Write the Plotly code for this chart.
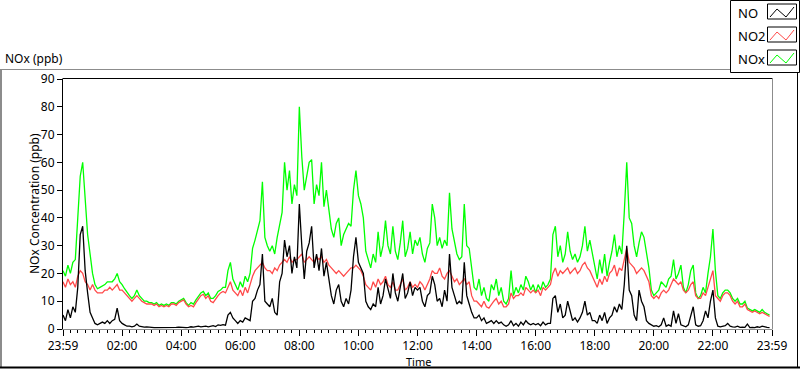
import plotly.graph_objects as go

# ---- data (5-minute samples, ppb) ----
NO = [
    5, 3, 7, 4, 8, 6, 15, 34, 37, 21, 13, 6,
    4, 2, 1.5, 2, 2.5, 2, 3, 2, 3, 3.5, 7.5, 3,
    2, 1.5, 1, 1, 0.8, 1, 1.8, 1, 0.8, 0.7, 0.8, 0.6,
    0.6, 0.5, 0.5, 0.6, 0.5, 0.4, 0.5, 0.6, 0.5, 0.5, 0.6, 0.7,
    0.6, 0.7, 0.5, 0.6, 0.8, 0.7, 0.9, 1, 0.8, 0.9, 1, 0.8,
    1, 1.2, 0.9, 1.5, 1.3, 1.6, 1.4, 5, 6, 4, 3, 2,
    3, 2.5, 4, 3.5, 3, 10, 11, 14, 16, 27, 10, 9,
    8, 11, 6, 5, 17, 20, 32, 26, 30, 20, 26, 22,
    45, 30, 18, 28, 31, 37, 22, 27, 21, 29, 19, 24,
    18, 12, 9, 14, 16, 10, 8, 11, 9, 14, 26, 33,
    24, 22, 20, 10, 8, 7, 9, 8, 15, 9, 12, 18,
    14, 11, 20, 13, 10, 15, 20, 11, 13, 17, 12, 15,
    14, 15, 10, 8, 12, 13, 19, 16, 10, 11, 8, 14,
    10, 27, 15, 12, 9, 10, 9, 24, 12, 9, 6, 4,
    4, 5, 3, 4, 2, 2.5, 3, 2, 3, 2, 2.5, 1.5,
    1, 1.5, 3, 1.2, 2, 1, 2.5, 1.5, 3, 2, 1.5, 2,
    1.5, 2, 1.2, 2.5, 1.5, 2, 2, 11, 12, 6, 9, 4,
    5, 10, 6, 3, 4, 2.5, 4, 6, 10, 5, 6, 3,
    3, 2, 5, 3, 6, 2, 4, 5, 8, 6, 9, 7,
    16, 30, 14, 12, 5, 3, 14, 10, 8, 3, 2, 1.5,
    1, 1.2, 0.8, 1.5, 4, 1, 1.5, 1, 6.5, 2, 5.5, 1.5,
    1, 0.8, 1.5, 5, 8, 1.5, 1, 1.2, 3, 6.5, 4, 10,
    14, 4, 1, 0.8, 1, 1.2, 2, 1, 0.8, 0.7, 1, 0.6,
    0.7, 0.6, 1.8, 0.5, 0.6, 0.5, 0.8, 0.6, 1, 0.7, 0.6, 0.5,
]
NO2 = [
    17, 15, 18, 16, 17, 15, 19, 21, 20, 17, 16, 14,
    16, 14, 13, 13, 13, 14, 14, 15, 14, 15, 16, 14,
    14, 13, 12, 11, 10, 11, 12, 11, 10, 9.5, 9, 9,
    9, 8.5, 9, 8, 8.5, 8, 8.5, 8, 9, 9, 8.5, 9.5,
    10, 10.5, 9, 8, 8.5, 8, 9.5, 11, 12, 12.5, 11, 12,
    10, 9.5, 11, 12, 13, 13.5, 13, 15, 17, 14, 13, 12,
    14, 12, 15, 13, 16, 19, 21, 22, 23, 24, 22, 21,
    21, 20, 22, 21, 23, 24, 25, 24, 26, 24, 25, 25,
    26, 27, 24, 25, 26, 25, 24, 26, 25, 26, 24, 25,
    23, 22, 21, 20, 21, 20, 19, 20, 21, 22, 22, 23,
    22, 21, 19, 16, 15, 14, 17, 15, 18, 16, 17, 19,
    16, 15, 17, 14, 14, 16, 18, 14, 15, 17, 15, 16,
    15, 17, 16, 14, 16, 18, 21, 20, 20, 22, 19, 18,
    20, 21, 19, 17, 18, 16, 17, 18, 16, 17, 12, 10,
    10, 9, 8, 10, 8, 7.5, 9, 10, 11, 9, 10, 8,
    8, 9, 13, 11, 12, 12, 13, 12, 15, 14, 13, 14,
    13, 14, 12, 15, 14, 15, 16, 20, 22, 19, 21, 20,
    21, 22, 20, 21, 22, 20, 21, 23, 24, 22, 21, 19,
    17, 15, 18, 16, 19, 17, 20, 21, 23, 19, 22, 21,
    25, 29, 24, 23, 22, 20, 21, 22, 21, 19, 17, 12,
    11, 12, 11, 13, 14, 13, 14, 16, 18, 17, 16, 17,
    14, 13, 14, 16, 17, 12, 11, 11, 13, 12, 15, 18,
    21, 12, 11, 10, 12, 13, 13, 12, 10, 9, 10, 8,
    8, 9, 7, 6.5, 6, 6.5, 6, 5.5, 6, 5.5, 5, 4.5,
]
NOx = [
    21, 19, 23, 20, 24, 25, 40, 55, 60, 45, 34, 27,
    20, 16, 14.5, 15, 15.5, 16, 17, 17, 17, 18, 20, 17,
    16, 14.5, 13, 12, 11, 12, 14, 12, 11, 10, 10, 9.5,
    9.5, 9, 9.5, 8.5, 9, 8.5, 9, 8.5, 9.5, 9.5, 9, 10,
    10.5, 11, 9.5, 8.5, 9.5, 9, 10.5, 12, 13, 13.5, 12, 13,
    11, 11, 12, 13.5, 14, 15, 15, 21, 24, 18, 16, 14,
    17, 15, 19, 17, 20, 29, 32, 36, 39, 53, 33, 30,
    28, 30, 27, 33, 38, 42, 60, 50, 57, 45, 52, 48,
    80, 62, 50, 55, 60, 61, 45, 52, 48, 60, 44, 50,
    42, 36, 33, 38, 40, 30, 34, 36, 38, 37, 50, 57,
    48, 45, 40, 28, 25, 22, 27, 24, 35, 26, 30, 39,
    30, 27, 37, 28, 25, 31, 39, 26, 29, 35, 27, 32,
    30, 33, 27, 24, 29, 31, 45, 40, 30, 33, 29, 32,
    30, 49, 36, 32, 27, 25, 26, 45, 30, 29, 22, 15,
    14, 18, 12, 15, 11, 10, 16, 14, 18, 12, 15, 10,
    9, 11, 21, 12, 15, 13, 16, 14, 19, 17, 14, 16,
    13, 16, 14, 17, 15, 16, 18, 34, 37, 26, 30, 24,
    27, 35, 28, 25, 27, 24, 26, 30, 37, 28, 32, 27,
    22, 18, 25, 20, 27, 19, 24, 28, 34, 26, 30, 27,
    42, 60, 40, 38, 30, 26, 31, 35, 33, 27, 22, 14,
    12, 13, 14, 17, 16, 15, 18, 19, 25, 18, 20, 23,
    15, 13, 16, 21, 23, 13, 11, 12, 15, 13, 20, 26,
    36, 21, 12, 11, 13, 14, 14, 13, 11, 10, 11, 9,
    9, 10, 7.5, 7, 6.5, 7, 6.5, 6, 7, 6, 5.5, 5,
]
SAMPLE_MINUTES = 5
hours = [i * SAMPLE_MINUTES / 60 for i in range(len(NO))]

tick_hours = [0, 2, 4, 6, 8, 10, 12, 14, 16, 18, 20, 22, 24]
tick_labels = ["23:59", "02:00", "04:00", "06:00", "08:00", "10:00", "12:00",
               "14:00", "16:00", "18:00", "20:00", "22:00", "23:59"]
series_names = ["NO", "NO2", "NOx"]
series_colors = ["#000000", "#ff4a4a", "#00ff00"]

FONT = "Noto Sans"
W, H = 800, 369
L, R, T, B = 63, 28, 79, 40
PW, PH = W - L - R, H - T - B


def px(x):
    return (x - L) / PW


def py(y):
    return (H - B - y) / PH


fig = go.Figure()
for name, vals, col in [("NOx", NOx, series_colors[2]),
                        ("NO2", NO2, series_colors[1]),
                        ("NO", NO, series_colors[0])]:
    fig.add_trace(go.Scatter(x=hours, y=vals, mode="lines", name=name,
                             line=dict(color=col, width=1.3), showlegend=False,
                             hoverinfo="skip"))

shapes = []


def line(x0, y0, x1, y1, color, width=1):
    shapes.append(dict(type="line", xref="paper", yref="paper",
                       x0=px(x0), y0=py(y0), x1=px(x1), y1=py(y1),
                       line=dict(color=color, width=width), layer="above"))


# outer frame
line(0, 69.5, 730, 69.5, "#8c8c8c")
line(1, 69.5, 1, 367, "#8c8c8c", 2)
line(0, 367.5, 800, 367.5, "#000000", 2)
line(797.5, 72, 797.5, 368, "#000000")
# plot area frame
line(62.5, 78.5, 772.5, 78.5, "#000000")
line(772.5, 78.5, 772.5, 329.5, "#8c8c8c")
# legend box
shapes.append(dict(type="rect", xref="paper", yref="paper",
                   x0=px(730.5), y0=py(0.5), x1=px(799.5), y1=py(72.5),
                   line=dict(color="#000000", width=1), fillcolor="white", layer="above"))

annotations = []
for k, (name, col) in enumerate(zip(series_names, series_colors)):
    yc = 12 + 23 * k
    shapes.append(dict(type="rect", xref="paper", yref="paper",
                       x0=px(767.5), y0=py(yc - 8), x1=px(796.5), y1=py(yc + 7),
                       line=dict(color="#000000", width=1), fillcolor="white", layer="above"))
    pts = [(770, yc + 5), (777, yc - 3), (786, yc + 5), (794, yc - 5)]
    path = "M " + " L ".join(f"{px(a)},{py(b)}" for a, b in pts)
    shapes.append(dict(type="path", xref="paper", yref="paper", path=path,
                       line=dict(color=col, width=1), layer="above"))
    annotations.append(dict(text=name, xref="paper", yref="paper", x=px(736), y=py(yc + 1),
                            xanchor="left", yanchor="middle", showarrow=False,
                            font=dict(family=FONT, size=13, color="#000000")))

annotations.append(dict(text="NOx (ppb)", xref="paper", yref="paper", x=px(3), y=py(59),
                        xanchor="left", yanchor="middle", showarrow=False,
                        font=dict(family=FONT, size=12, color="#000000")))
annotations.append(dict(text="NOx Concentration (ppb)", xref="paper", yref="paper",
                        x=px(34), y=py(204), textangle=-90, xanchor="center", yanchor="middle",
                        showarrow=False, font=dict(family=FONT, size=12, color="#000000")))
annotations.append(dict(text="Time", xref="paper", yref="paper", x=px(418), y=py(361.5),
                        xanchor="center", yanchor="middle", showarrow=False, borderpad=0,
                        font=dict(family=FONT, size=11, color="#000000")))

fig.update_layout(
    width=W, height=H,
    margin=dict(l=L, r=R, t=T, b=B),
    paper_bgcolor="white", plot_bgcolor="white",
    font=dict(family=FONT, size=12, color="#000000"),
    shapes=shapes, annotations=annotations,
    hovermode=False,
    xaxis=dict(range=[0, 24], tickmode="array", tickvals=tick_hours, ticktext=tick_labels,
               showgrid=False, zeroline=False, showline=True, linecolor="#8c8c8c", linewidth=1,
               ticks="outside", ticklen=6, tickcolor="#000000", tickwidth=1,
               tickfont=dict(family=FONT, size=12, color="#000000"),
               minor=dict(tickmode="linear", tick0=0, dtick=0.25, ticks="outside",
                          ticklen=3, tickcolor="#000000", showgrid=False)),
    yaxis=dict(range=[0, 90], tickmode="linear", tick0=0, dtick=10,
               showgrid=False, zeroline=False, showline=True, linecolor="#000000", linewidth=1,
               ticks="outside", ticklen=5, tickcolor="#000000", tickwidth=1,
               tickfont=dict(family=FONT, size=12, color="#000000")),
)

fig.write_html("out.html", config={"displayModeBar": False, "staticPlot": True},
               post_script="document.body.style.margin='0';document.body.style.overflow='hidden';")
